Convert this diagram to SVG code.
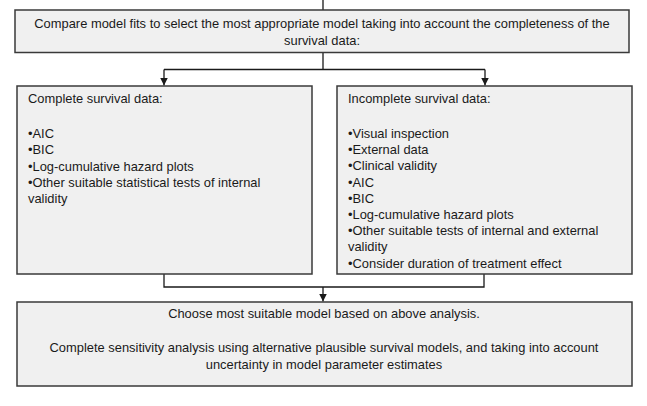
<svg xmlns="http://www.w3.org/2000/svg" width="647" height="406" viewBox="0 0 647 406">
<style>
.box{fill:#f0f0f0;stroke:#3a3a3a;stroke-width:1.5}
.t{font-family:"Liberation Sans",Arial,sans-serif;font-size:12.9px;fill:#1a1a1a}
.c{text-anchor:middle}
.ln{fill:none;stroke:#1a1a1a;stroke-width:1.3}
</style>
<defs>
<marker id="ah" viewBox="0 0 10 10" refX="10" refY="5" markerWidth="8" markerHeight="8" markerUnits="userSpaceOnUse" orient="auto">
<path d="M0,0 L10,5 L0,10 Z" fill="#1a1a1a"/>
</marker>
</defs>
<rect width="647" height="406" fill="#ffffff"/>
<g id="connectors">
<path class="ln" d="M323,0 V10"/>
<path class="ln" d="M323,52 V69.5"/>
<path class="ln" d="M164,69.5 H485"/>
<path class="ln" d="M164,69.5 V85.5" marker-end="url(#ah)"/>
<path class="ln" d="M485,69.5 V85.5" marker-end="url(#ah)"/>
<path class="ln" d="M164,274 V287 H484 V274"/>
<path class="ln" d="M323,287 V301.5" marker-end="url(#ah)"/>
</g>
<g id="top">
<rect class="box" x="15" y="10" width="614" height="42.5"/>
<text class="t c" x="322" y="27.5">Compare model fits to select the most appropriate model taking into account the completeness of the</text>
<text class="t c" x="322" y="45">survival data:</text>
</g>
<g id="complete">
<rect class="box" x="17" y="86" width="295" height="188"/>
<text class="t" x="28" y="103">Complete survival data:</text>
<text class="t" x="28" y="138">•AIC</text>
<text class="t" x="28" y="154.3">•BIC</text>
<text class="t" x="28" y="170.6">•Log-cumulative hazard plots</text>
<text class="t" x="28" y="186.9">•Other suitable statistical tests of internal</text>
<text class="t" x="28" y="203.2">validity</text>
</g>
<g id="incomplete">
<rect class="box" x="337" y="86" width="295" height="188"/>
<text class="t" x="348" y="103">Incomplete survival data:</text>
<text class="t" x="348" y="138">•Visual inspection</text>
<text class="t" x="348" y="154.2">•External data</text>
<text class="t" x="348" y="170.4">•Clinical validity</text>
<text class="t" x="348" y="186.6">•AIC</text>
<text class="t" x="348" y="202.8">•BIC</text>
<text class="t" x="348" y="219">•Log-cumulative hazard plots</text>
<text class="t" x="348" y="235.2">•Other suitable tests of internal and external</text>
<text class="t" x="348" y="251.4">validity</text>
<text class="t" x="348" y="267.6">•Consider duration of treatment effect</text>
</g>
<g id="choose">
<rect class="box" x="17" y="302" width="615" height="84"/>
<text class="t c" x="324" y="317.5">Choose most suitable model based on above analysis.</text>
<text class="t c" x="324" y="352">Complete sensitivity analysis using alternative plausible survival models, and taking into account</text>
<text class="t c" x="324" y="368.5">uncertainty in model parameter estimates</text>
</g>
</svg>
